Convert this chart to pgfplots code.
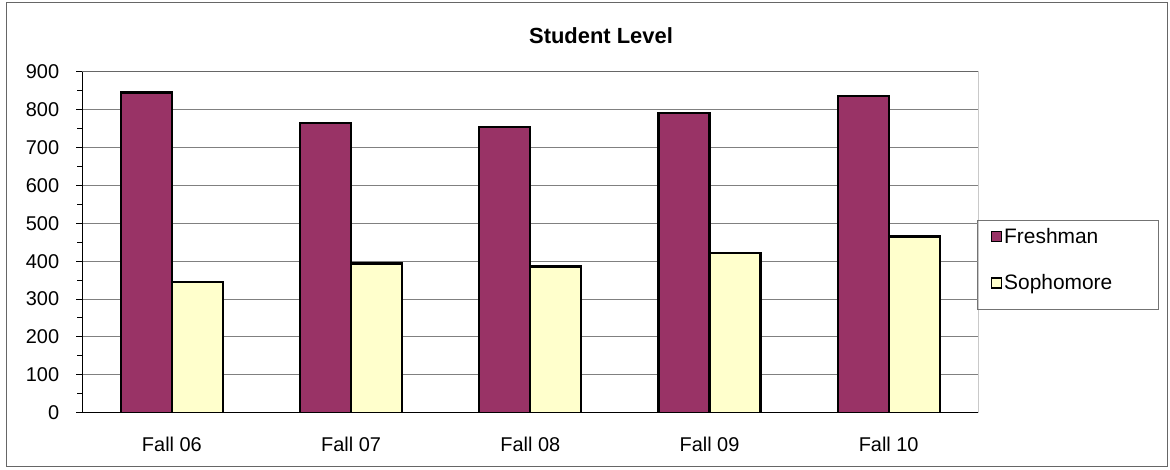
\documentclass[border=0pt]{standalone}
\usepackage{fontspec}
\setmainfont{Liberation Sans}
\usepackage{pgfplots}
\pgfplotsset{compat=1.18}
\definecolor{plum}{HTML}{993366}
\definecolor{ivory}{HTML}{FFFFCC}
\begin{document}
\begin{tikzpicture}
\useasboundingbox (0bp,0bp) rectangle (1170bp,470bp);
\draw[black!60, line width=1bp] (6bp,3bp) rectangle (1167bp,467bp);
\node at (601bp,434bp) {\bfseries\fontsize{22}{26}\selectfont Student Level};
\draw[black!55, line width=1bp] (977bp,160bp) rectangle (1158bp,249bp);
\begin{axis}[
  at={(82.3bp,57.3bp)}, anchor=south west,
  scale only axis, width=896bp, height=341bp,
  ymin=0, ymax=900, xmin=-0.5, xmax=4.5,
  ybar=0pt, bar width=51bp,
  axis x line*=bottom, axis y line*=left,
  axis line style={black, line width=1bp},
  xtick={0,...,4},
  xticklabels={Fall 06,Fall 07,Fall 08,Fall 09,Fall 10},
  major x tick style={draw=none},
  extra x ticks={-0.5,0.5,1.5,2.5,3.5,4.5},
  extra x tick labels={},
  extra x tick style={major tick length=7bp, tick style={black!70, line width=1bp}},
  ytick={0,100,...,900},
  minor y tick num=1,
  tick align=outside,
  major tick length=6bp, minor tick length=5bp,
  every tick/.style={black, line width=1bp},
  ymajorgrids,
  major grid style={black!50, line width=1bp},
  /pgf/number format/assume math mode=true,
  ticklabel style={font=\fontsize{20}{24}\selectfont, inner sep=0pt},
  yticklabel shift=17bp,
  xticklabel shift=18bp,
  legend style={at={(rel axis cs:1.0135,0.548)}, anchor=north west, draw=none, fill=none,
    font=\fontsize{21}{25}\selectfont, row sep=26bp, inner xsep=0pt, inner ysep=0pt},
  legend cell align=left,
]
\addplot[fill=plum, draw=black, line width=2.2bp,
  legend image code/.code={\draw[fill=plum,draw=black,line width=1.6bp] (0bp,-5bp) rectangle (10bp,5bp);}]
  coordinates {(0,845) (1,764) (2,754) (3,790) (4,836)};
\addlegendentry{Freshman}
\addplot[fill=ivory, draw=black, line width=2.2bp,
  legend image code/.code={\draw[fill=ivory,draw=black,line width=1.6bp] (0bp,-5bp) rectangle (10bp,5bp);}]
  coordinates {(0,344) (1,394) (2,386) (3,421) (4,465)};
\addlegendentry{Sophomore}
\draw[black!60, line width=1bp] (rel axis cs:0,1) -- (rel axis cs:1,1) -- (rel axis cs:1,0);
\end{axis}
\end{tikzpicture}
\end{document}
